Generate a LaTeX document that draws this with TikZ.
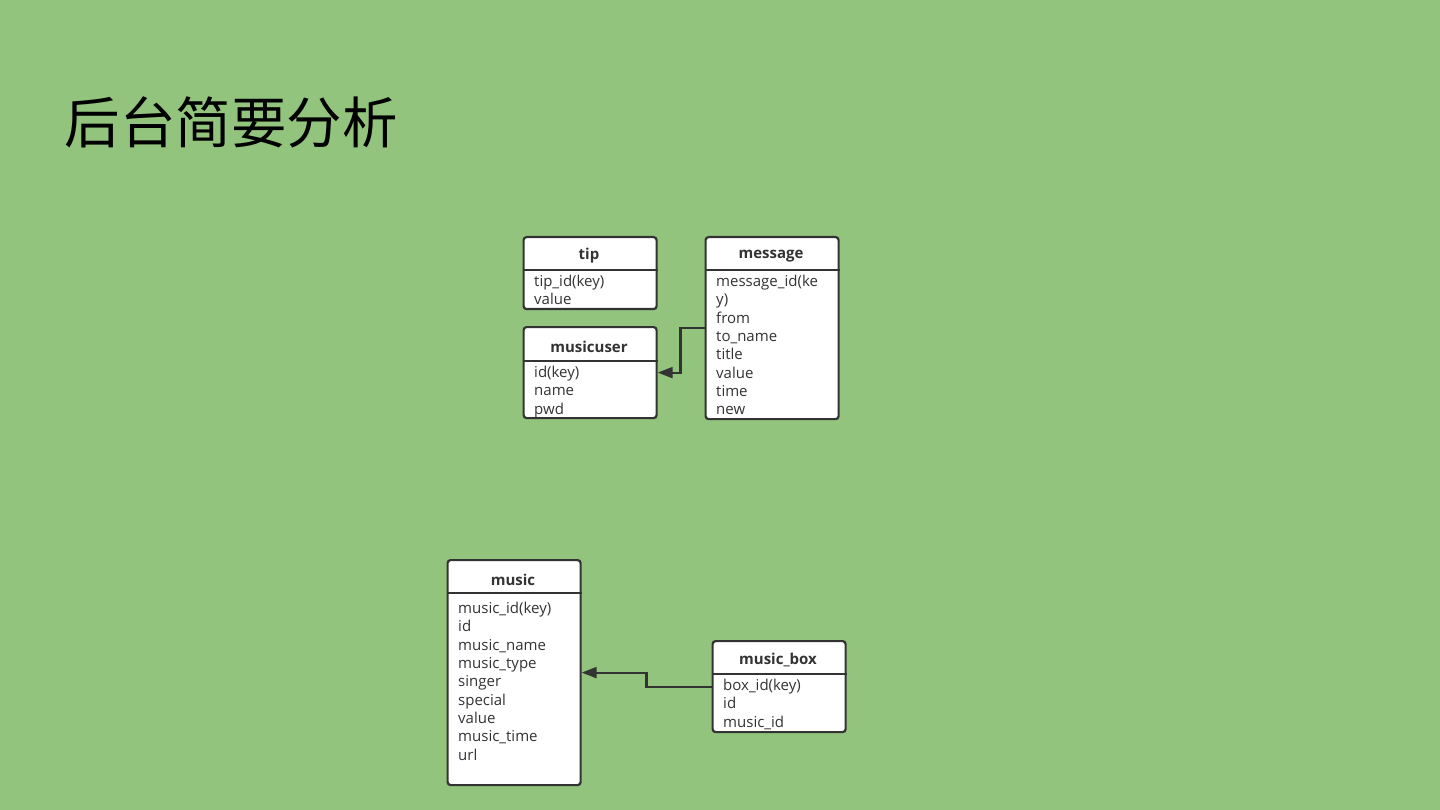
\documentclass[tikz,border=0pt]{standalone}
\usepackage{fontspec}
\setmainfont{Open Sans}
\newfontfamily\cjk{Noto Sans CJK SC}
\usetikzlibrary{arrows.meta,positioning}
\definecolor{slidegreen}{HTML}{93C47D}
\definecolor{edge}{HTML}{333333}

\begin{document}
\begin{tikzpicture}[
    x=1pt, y=-1pt,
    tbl/.style={draw=edge, fill=white, line width=2.2pt, rounded corners=3pt,
                minimum width=133pt, inner sep=0pt, anchor=north west},
    hdr/.style={font=\fontsize{15}{18}\selectfont\bfseries, text=edge, anchor=center},
    rows/.style={font=\fontsize{15}{18.3}\selectfont, text=edge, align=left,
                 anchor=north west, inner sep=0pt},
    sep/.style={draw=edge, line width=2.2pt},
    link/.style={draw=edge, line width=2.2pt, -{Triangle[length=15pt,width=11pt]}}
]
    \fill[slidegreen] (0,0) rectangle (1440,810);
    \useasboundingbox (0,0) rectangle (1440,810);

    \node[font=\fontsize{55.5}{60}\cjk, anchor=west] (title) at (61,122) {后台简要分析};

    % tables
    \node[tbl, minimum height=72pt]  (tip)       at (522.5,236) {};
    \node[tbl, minimum height=182pt] (message)   at (704.5,236) {};
    \node[tbl, minimum height=91pt]  (musicuser) at (522.5,326) {};
    \node[tbl, minimum height=225pt] (music)     at (446.5,559) {};
    \node[tbl, minimum height=91pt]  (musicbox)  at (711.5,640) {};

    % header lines
    \draw[sep] (tip.west |- 0,270)       -- (tip.east |- 0,270);
    \draw[sep] (message.west |- 0,270)   -- (message.east |- 0,270);
    \draw[sep] (musicuser.west |- 0,361) -- (musicuser.east |- 0,361);
    \draw[sep] (music.west |- 0,593)     -- (music.east |- 0,593);
    \draw[sep] (musicbox.west |- 0,674)  -- (musicbox.east |- 0,674);

    % header texts
    \node[hdr] (tiph)       at (589,256) {tip};
    \node[hdr] (messageh)   at (771,256) {message};
    \node[hdr] (musicuserh) at (589,347) {musicuser};
    \node[hdr] (musich)     at (513,580) {music};
    \node[hdr] (musicboxh)  at (778,660) {music\_box};

    % fields
    \node[rows] (tipr) at (534,275) {tip\_id(key)\\value};
    \node[rows] (messager) at (716,275) {message\_id(ke\\y)\\from\\to\_name\\title\\value\\time\\new};
    \node[rows] (musicuserr) at (534,366) {id(key)\\name\\pwd};
    \node[rows] (musicr) at (458,602) {music\_id(key)\\id\\music\_name\\music\_type\\singer\\special\\value\\music\_time\\url};
    \node[rows] (musicboxr) at (723,679) {box\_id(key)\\id\\music\_id};

    % relations
    \draw[link] (message.west) -- ++(-24,0) |- (musicuser.east);
    \draw[link] (musicbox.west) -- ++(-65,0) |- (music.east);
\end{tikzpicture}
\end{document}
